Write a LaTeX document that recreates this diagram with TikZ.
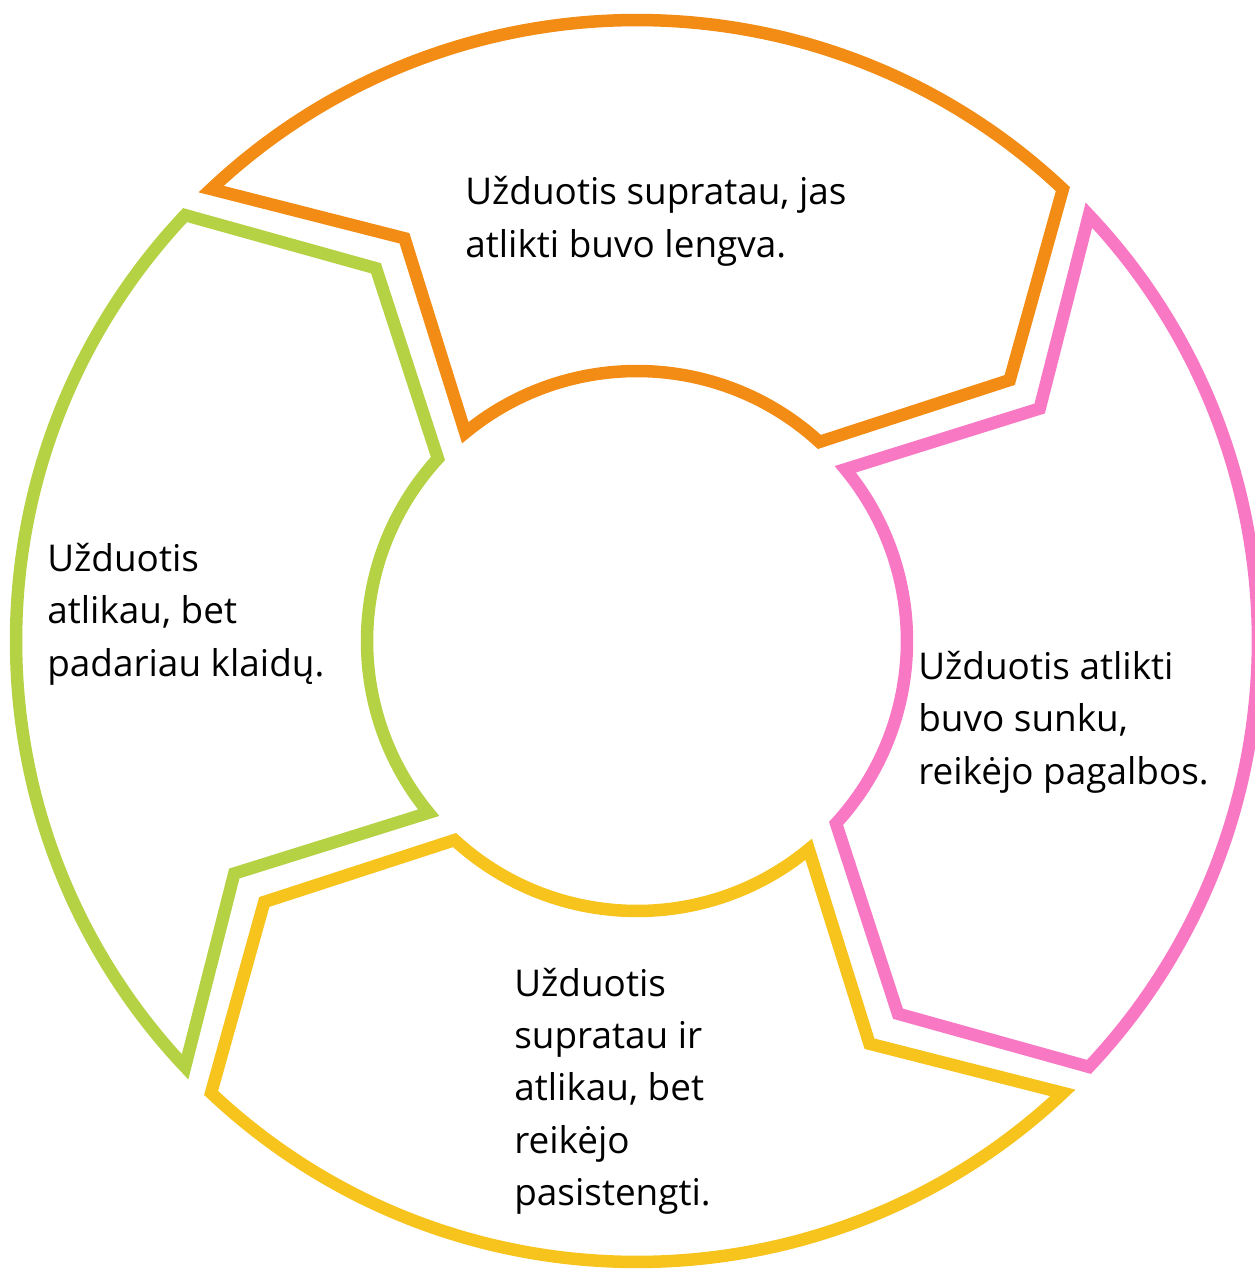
\documentclass[tikz,border=0pt]{standalone}
\usepackage{fontspec}
\setmainfont{Open Sans}

\definecolor{easy}{HTML}{F28C14}
\definecolor{hard}{HTML}{F878C4}
\definecolor{effort}{HTML}{F7C31D}
\definecolor{mistake}{HTML}{B5D144}
\tikzset{
  segment/.style={draw=#1,line width=0.25cm,line join=miter},
  answer/.style={align=left,anchor=base west,inner sep=0pt,font=\fontsize{21}{29.6}\selectfont},
}

\begin{document}
\begin{tikzpicture}[x=0.02cm,y=0.02cm]
      \useasboundingbox (-637,-628) rectangle (618,641);
      \foreach \c/\col in {90/easy,0/hard,-90/effort,180/mistake}
      {
        \draw [segment=\col] ({\c+43.3}:621) arc [start angle={\c+43.3}, end angle={\c-43.3}, radius=621]
          -- ({\c-55}:455) -- ({\c-42.5}:270)
          arc [start angle={\c-42.5}, end angle={\c+39.5}, radius=270]
          -- ({\c+30}:465) -- cycle ;
      }
      \node [answer] at (-172,384) (easytext) {Užduotis supratau, jas\\atlikti buvo lengva.};
      \node [answer] at (281,-143) (hardtext) {Užduotis atlikti\\buvo sunku,\\reikėjo pagalbos.};
      \node [answer] at (-123,-564) (efforttext) {Užduotis\\supratau ir\\atlikau, bet\\reikėjo\\pasistengti.};
      \node [answer] at (-590,-35) (mistaketext) {Užduotis\\atlikau, bet\\padariau klaidų.};
    \end{tikzpicture}
\end{document}
